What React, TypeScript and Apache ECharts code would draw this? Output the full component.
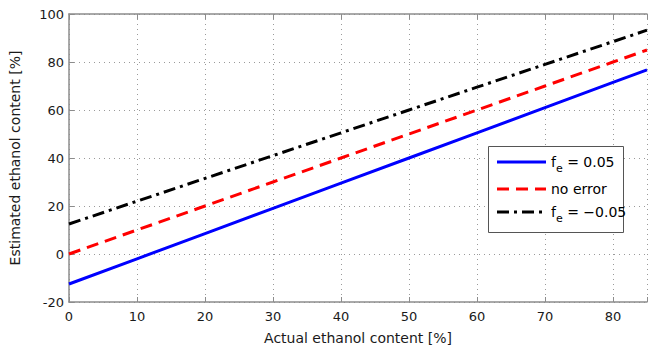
import React, { useEffect, useRef } from "react";
import * as echarts from "echarts";

// Actual ethanol content [%]
const actual = [0, 10, 20, 30, 40, 50, 60, 70, 80, 85];
// Estimated ethanol content [%] for each sensor error case
const estPositive = [-12.5, -2, 8.5, 19, 29.5, 40, 50.5, 61, 71.5, 76.75];
const estNoError = [0, 10, 20, 30, 40, 50, 60, 70, 80, 85];
const estNegative = [12.5, 22, 31.5, 41, 50.5, 60, 69.5, 79, 88.5, 93.25];

const FONT = "'DejaVu Sans', 'Liberation Sans', Arial, sans-serif";
const AXIS_GRAY = "#8c8c8c";
const GRID_GRAY = "#9a9a9a";
const TEXT = "#1a1a1a";

const pairs = (xs: number[], ys: number[]) => xs.map((x, i) => [x, ys[i]]);

export default function App() {
  const ref = useRef<HTMLDivElement>(null);

  useEffect(() => {
    if (!ref.current) return;
    const chart = echarts.init(ref.current, undefined, { renderer: "svg" });

    const legendRows = [
      { y: 162, color: "#0000ff", dash: null as number[] | null, label: "{t|f}{s|e}{t| = 0.05}" },
      { y: 189, color: "#ff0000", dash: [12, 7], label: "{t|no error}" },
      { y: 212, color: "#000000", dash: [12, 5, 3, 5], label: "{t|f}{s|e}{t| = \u22120.05}" },
    ];
    const rich = {
      t: { fontFamily: FONT, fontSize: 14, color: TEXT, lineHeight: 18 },
      s: { fontFamily: FONT, fontSize: 11, color: TEXT, padding: [12, 0, 0, 0], lineHeight: 18 },
    };

    const legendGraphics: any[] = [
      {
        type: "rect",
        shape: { x: 488.5, y: 146.5, width: 135, height: 86 },
        style: { fill: "#ffffff", stroke: "#555", lineWidth: 1 },
        z: 100,
      },
    ];
    legendRows.forEach((r) => {
      legendGraphics.push({
        type: "line",
        shape: { x1: 497, y1: r.y, x2: 546, y2: r.y },
        style: { stroke: r.color, lineWidth: 3, lineDash: r.dash || undefined },
        z: 101,
      });
      legendGraphics.push({
        type: "text",
        x: 551,
        y: r.y,
        style: { text: r.label, rich, verticalAlign: "middle", align: "left" },
        z: 101,
      });
    });

    const baseSeries = (name: string, ys: number[], color: string, type: any) => ({
      name,
      type: "line",
      data: pairs(actual, ys),
      showSymbol: false,
      symbol: "none",
      lineStyle: { color, width: 3, type, cap: "butt" },
      z: 5,
    });

    chart.setOption({
      animation: false,
      backgroundColor: "#ffffff",
      grid: { left: 63, right: 0, top: 14, bottom: 47, containLabel: false },
      xAxis: [
        {
          type: "value",
          min: 0,
          max: 85,
          interval: 10,
          name: "Actual ethanol content [%]",
          nameLocation: "middle",
          nameGap: 29,
          nameTextStyle: { fontFamily: FONT, fontSize: 14, color: TEXT },
          axisLine: { show: true, onZero: false, lineStyle: { color: AXIS_GRAY, width: 1.5 } },
          axisTick: { show: true, inside: true, length: 5, lineStyle: { color: AXIS_GRAY } },
          axisLabel: {
            fontFamily: FONT,
            fontSize: 13,
            color: TEXT,
            margin: 8,
            formatter: (v: number) => (v > 80 ? "" : String(v)),
          },
          splitLine: { show: true, lineStyle: { color: GRID_GRAY, type: [1, 4], width: 1 } },
        },
        {
          type: "value",
          position: "top",
          min: 0,
          max: 85,
          interval: 10,
          axisLine: { show: true, onZero: false, lineStyle: { color: AXIS_GRAY, width: 1.5 } },
          axisTick: { show: true, inside: true, length: 5, lineStyle: { color: AXIS_GRAY } },
          axisLabel: { show: false },
          splitLine: { show: false },
        },
      ],
      yAxis: {
        type: "value",
        min: -20,
        max: 100,
        interval: 20,
        name: "Estimated ethanol content [%]",
        nameLocation: "middle",
        nameGap: 47,
        nameTextStyle: { fontFamily: FONT, fontSize: 14, color: TEXT },
        axisLine: { show: true, onZero: false, lineStyle: { color: AXIS_GRAY, width: 1.5 } },
        axisTick: { show: true, inside: true, length: 5, lineStyle: { color: AXIS_GRAY } },
        axisLabel: { fontFamily: FONT, fontSize: 13, color: TEXT, margin: 5 },
        splitLine: { show: true, lineStyle: { color: GRID_GRAY, type: [1, 4], width: 1 } },
      },
      series: [
        baseSeries("fe = 0.05", estPositive, "#0000ff", "solid"),
        baseSeries("no error", estNoError, "#ff0000", [12, 7]),
        baseSeries("fe = -0.05", estNegative, "#000000", [12, 5, 3, 5]),
      ],
      graphic: legendGraphics,
    });

    return () => chart.dispose();
  }, []);

  return (
    <div
      ref={ref}
      style={{ position: "fixed", left: 0, top: 0, width: 650, height: 350, background: "#fff" }}
    />
  );
}
